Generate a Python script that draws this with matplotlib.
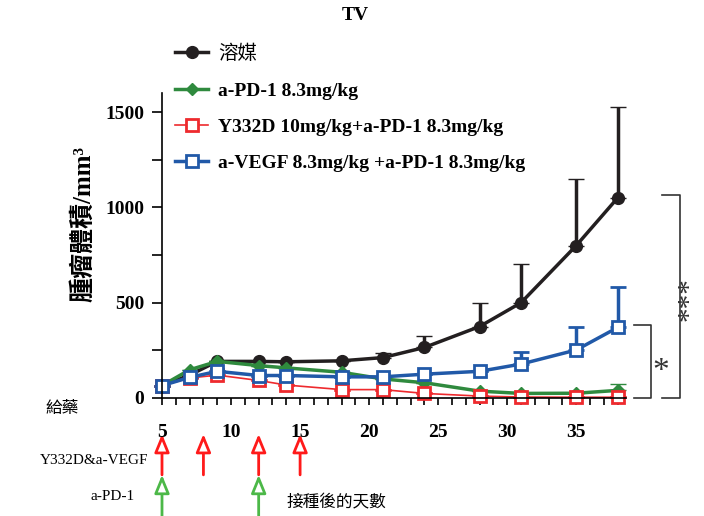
import matplotlib
matplotlib.use("Agg")
import matplotlib.pyplot as plt
from matplotlib.patches import FancyArrowPatch
from matplotlib.lines import Line2D
from matplotlib.ticker import MultipleLocator
import matplotlib.transforms as mtransforms

SERIF = ['Liberation Serif', 'Noto Sans CJK TC']
CJK = ['Noto Sans CJK TC', 'DejaVu Sans']

days = [5, 7, 9, 12, 14, 18, 21, 24, 28, 31, 35, 38]

vehicle = [65, 120, 192, 192, 190, 195, 212, 265, 375, 500, 800, 1050]
vehicle_err = [0, 0, 0, 0, 0, 0, 22, 60, 125, 205, 350, 475]

pd1 = [65, 148, 192, 170, 158, 135, 100, 80, 36, 24, 25, 40]
pd1_err = [0, 0, 0, 0, 0, 0, 0, 0, 0, 0, 0, 32]

y332d = [65, 105, 120, 92, 68, 44, 44, 24, 10, 5, 4, 4]
y332d_err = [0] * 12

vegf = [65, 108, 140, 118, 118, 111, 111, 125, 140, 178, 252, 370]
vegf_err = [0, 0, 0, 0, 0, 0, 0, 0, 0, 65, 120, 210]

labels = ['溶媒', 'a-PD-1 8.3mg/kg', 'Y332D 10mg/kg+a-PD-1 8.3mg/kg',
          'a-VEGF 8.3mg/kg +a-PD-1 8.3mg/kg']

red_arrow_days = [5, 8, 12, 15]
green_arrow_days = [5, 12]

BLACK = '#231f20'
GREEN = '#2f8a3e'
RED = '#ee2a2e'
BLUE = '#2159a8'

fig = plt.figure(figsize=(7.04, 5.16), dpi=100)
ax = fig.add_axes([162 / 704, 118 / 516, 464 / 704, 305 / 516])

handles = []
def series(y, err, color, marker, ms, lw, face, mew):
    ax.errorbar(days, y, yerr=[[0] * len(y), err], color=color, lw=lw,
                marker=marker, ms=ms, mfc=face, mec=color, mew=mew,
                capsize=6, capthick=lw, elinewidth=lw, clip_on=False)
    handles.append(Line2D([], [], color=color, lw=lw, marker=marker, ms=ms,
                          mfc=face, mec=color, mew=mew))

series(vehicle, vehicle_err, BLACK, 'o', 8.5, 2.5, BLACK, 1)
series(pd1, pd1_err, GREEN, 'D', 6, 2.5, GREEN, 1)
series(y332d, y332d_err, RED, 's', 8.5, 1.2, 'white', 2)
series(vegf, vegf_err, BLUE, 's', 8.5, 2.5, 'white', 2)

ax.set_xlim(5, 38.6)
ax.set_ylim(0, 1600)
ax.spines['top'].set_visible(False)
ax.spines['right'].set_visible(False)
ax.spines['left'].set_linewidth(1.2)
ax.spines['bottom'].set_linewidth(1.2)
ax.set_xticks([5, 10, 15, 20, 25, 30, 35])
ax.xaxis.set_minor_locator(MultipleLocator(1))
ax.set_yticks([0, 500, 1000, 1500])
ax.yaxis.set_minor_locator(MultipleLocator(250))
ax.tick_params(axis='x', which='both', length=5, width=1.2, pad=14)
ax.tick_params(axis='y', which='both', length=7, width=1.2, pad=6)
for t in ax.get_xticklabels() + ax.get_yticklabels():
    t.set_fontfamily(SERIF)
    t.set_fontweight('bold')
    t.set_fontsize(14)

ax.set_ylabel('腫瘤體積/mm³', family=SERIF, fontweight='bold', fontsize=18)
ax.yaxis.set_label_coords(-0.145, 0.57)

leg = ax.legend(handles, labels, loc='upper left',
                bbox_to_anchor=(175 / 704, 1 - 43 / 516),
                bbox_transform=fig.transFigure, frameon=False,
                prop={'family': SERIF, 'weight': 'bold', 'size': 14},
                labelspacing=0.95, handlelength=1.7, handletextpad=0.5,
                borderaxespad=0, borderpad=0)
leg.get_texts()[0].set_fontfamily(CJK)
leg.get_texts()[0].set_fontweight('normal')

fig.text(355 / 704, 1 - 16 / 516, 'TV', family=SERIF, fontweight='bold',
         fontsize=14, ha='center', va='center')

# significance brackets
ax.plot([41.2, 42.5, 42.5, 41.2], [1065, 1065, 0, 0], color='#333333',
        lw=1.2, clip_on=False)
ax.plot([39.2, 40.4, 40.4, 39.2], [385, 385, 0, 0], color='#333333',
        lw=1.2, clip_on=False)
ax.text(41.1, 140, '*', family=SERIF, fontsize=24, ha='center',
        va='center', color='#333333')
ax.text(43.2, 520, '***', family=SERIF, fontsize=21, ha='center',
        va='center', rotation=90, color='#333333')

# dosing arrows
trans = mtransforms.blended_transform_factory(ax.transData, ax.transAxes)
for d in red_arrow_days:
    a = FancyArrowPatch((d, -0.252), (d, -0.118), transform=trans,
                        arrowstyle='-|>,head_length=1.1,head_width=0.45',
                        mutation_scale=10, lw=2, ec='#ff1a1a', fc='white',
                        clip_on=False, shrinkA=0, shrinkB=0)
    ax.add_patch(a)
for d in green_arrow_days:
    a = FancyArrowPatch((d, -0.40), (d, -0.252), transform=trans,
                        arrowstyle='-|>,head_length=1.1,head_width=0.45',
                        mutation_scale=10, lw=2, ec='#4cb848', fc='white',
                        clip_on=False, shrinkA=0, shrinkB=0)
    ax.add_patch(a)

fig.text(62 / 704, 1 - 408 / 516, '給藥', family=CJK, fontsize=12,
         fontweight='medium', ha='center', va='center')
fig.text(148 / 704, 1 - 461 / 516, 'Y332D&a-VEGF', family=SERIF,
         fontsize=11, ha='right', va='center')
fig.text(135 / 704, 1 - 496 / 516, 'a-PD-1', family=SERIF, fontsize=11,
         ha='right', va='center')
fig.text(336 / 704, 1 - 503 / 516, '接種後的天數', family=CJK, fontsize=12,
         ha='center', va='center')

fig.savefig('out.png', dpi=100)
